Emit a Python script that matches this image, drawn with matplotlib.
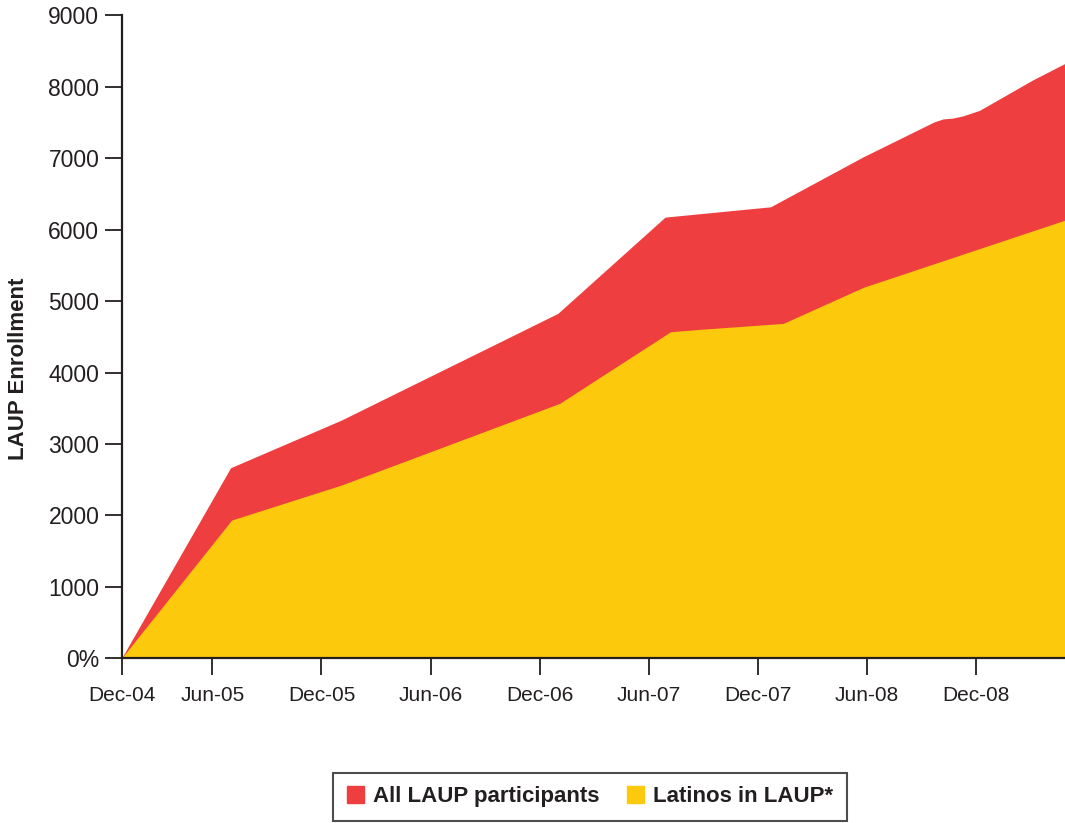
import matplotlib
matplotlib.use("Agg")
import matplotlib.pyplot as plt
from matplotlib.patches import Patch

plt.rcParams["font.family"] = ["Liberation Sans", "DejaVu Sans"]

# months after Nov-04 (so 1 = the chart start, labelled Dec-04)
all_x = [1, 7.0, 13.1, 25.0, 30.9, 36.7, 41.8, 45.7, 46.2, 46.7, 47.3, 48.2, 51.1, 52.9]
all_laup = [0, 2668, 3336, 4829, 6177, 6321, 7021, 7510, 7552, 7562, 7595, 7672, 8094, 8329]

lat_x = [1, 7.06, 13.1, 25.1, 31.2, 32.8, 37.4, 41.8, 52.9]
latinos = [0, 1936, 2426, 3569, 4572, 4605, 4689, 5193, 6135]

tick_pos = [1, 6, 12, 18, 24, 30, 36, 42, 48]
tick_labels = ["Dec-04", "Jun-05", "Dec-05", "Jun-06", "Dec-06",
               "Jun-07", "Dec-07", "Jun-08", "Dec-08"]
y_ticks = [0, 1000, 2000, 3000, 4000, 5000, 6000, 7000, 8000, 9000]
y_labels = ["0%"] + [str(v) for v in y_ticks[1:]]

RED = "#EF3E3F"
YELLOW = "#FDC90D"
INK = "#231F20"

fig = plt.figure(figsize=(10.65, 8.23), dpi=100)
ax = fig.add_axes([0.1141, 0.2001, 0.8859, 0.7811])

ax.fill_between(all_x, all_laup, color=RED, lw=0)
ax.fill_between(lat_x, latinos, color=YELLOW, lw=0)

ax.set_xlim(1, 52.9)
ax.set_ylim(0, 9000)
ax.set_xticks(tick_pos)
ax.set_xticklabels(tick_labels, fontsize=15)
ax.set_yticks(y_ticks)
ax.set_yticklabels(y_labels, fontsize=16.5)
ax.tick_params(axis="both", direction="out", length=12, width=1.3, color=INK, labelcolor=INK)
ax.tick_params(axis="x", pad=8)
ax.tick_params(axis="y", pad=4)

for side in ["top", "right"]:
    ax.spines[side].set_visible(False)
for side in ["left", "bottom"]:
    ax.spines[side].set_linewidth(1.6)
    ax.spines[side].set_color(INK)

ax.set_ylabel("LAUP Enrollment", fontsize=16, fontweight="bold", color=INK, labelpad=10)
ax.yaxis.set_label_coords(-0.098, 0.45)

handles = [Patch(color=RED, label="All LAUP participants"),
           Patch(color=YELLOW, label="Latinos in LAUP*")]
leg = fig.legend(handles=handles, loc="center", bbox_to_anchor=(0.554, 0.032), ncol=2,
                 frameon=True, fancybox=False, edgecolor=INK, handlelength=0.8,
                 handleheight=0.8, handletextpad=0.4, columnspacing=1.2,
                 prop={"weight": "bold", "size": 16}, borderpad=0.6)
leg.get_frame().set_linewidth(1.5)
for t in leg.get_texts():
    t.set_color(INK)

fig.savefig("out.png", dpi=100)
